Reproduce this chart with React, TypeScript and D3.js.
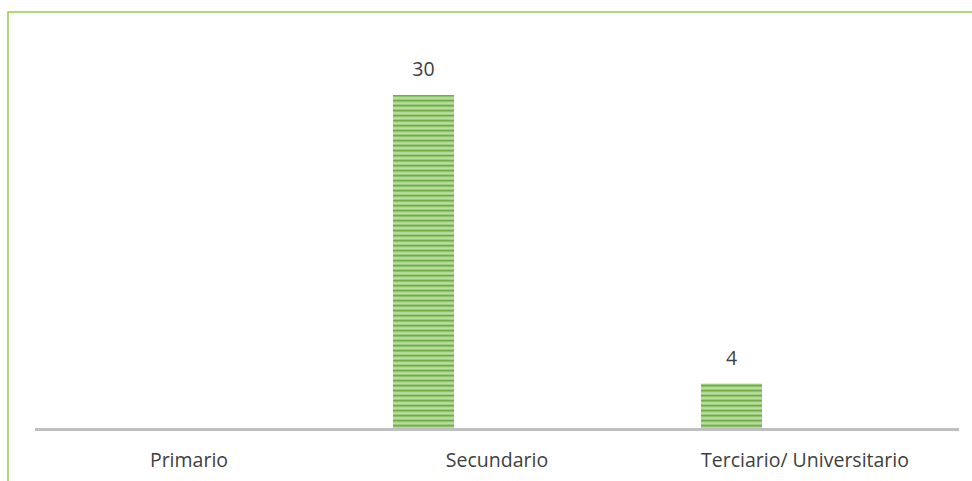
import React from "react";
import * as d3 from "d3";

// Education level counts
const categories = ["Primario", "Secundario", "Terciario/ Universitario"];
const values: (number | null)[] = [null, 30, 4];
// Series slots per category group (only the first one carries data)
const seriesSlots = ["Cantidad", "s2", "s3"];

const W = 972;
const H = 481;
const margin = { left: 35, right: 13, top: 95, bottom: 52 };

export default function App() {
  const x = d3
    .scaleBand<string>()
    .domain(categories)
    .range([margin.left, W - margin.right])
    .padding(0);

  const inner = d3
    .scaleBand<string>()
    .domain(seriesSlots)
    .range([0, x.bandwidth()])
    .paddingInner(0.17)
    .paddingOuter(0.68);

  const baseY = H - margin.bottom - 1;
  const y = d3.scaleLinear().domain([0, 30]).range([baseY, margin.top]);

  const font = "'Open Sans', sans-serif";
  const fontSize = 19.5;

  return (
    <svg
      width={W}
      height={H}
      style={{ position: "absolute", left: 0, top: 0 }}
      viewBox={`0 0 ${W} ${H}`}
    >
      <defs>
        <pattern id="stripes" width="6" height="5" patternUnits="userSpaceOnUse">
          <rect width="6" height="5" fill="#9ccc7b" />
          <rect y="0" width="6" height="1.3" fill="#6fac46" />
          <rect y="2.5" width="6" height="1.2" fill="#c8e5b2" />
        </pattern>
      </defs>
      <rect x={0} y={0} width={W} height={H} fill="#ffffff" />
      {/* chart frame */}
      <rect
        x={8}
        y={12}
        width={W + 20}
        height={H + 20}
        fill="none"
        stroke="#92d050"
        strokeWidth={1.5}
      />
      {values.map((v, i) =>
        v == null ? null : (
          <g key={categories[i]}>
            <rect
              x={(x(categories[i]) ?? 0) + (inner(seriesSlots[0]) ?? 0)}
              y={y(v)}
              width={inner.bandwidth()}
              height={baseY - y(v)}
              fill="url(#stripes)"
            />
            <text
              x={(x(categories[i]) ?? 0) + (inner(seriesSlots[0]) ?? 0) + inner.bandwidth() / 2}
              y={y(v) - 19}
              textAnchor="middle"
              fontFamily={font}
              fontSize={fontSize}
              fill="#404040"
            >
              {v}
            </text>
          </g>
        )
      )}
      <line
        x1={margin.left}
        x2={W - margin.right}
        y1={baseY + 1.5}
        y2={baseY + 1.5}
        stroke="#bfbfbf"
        strokeWidth={3}
      />
      {categories.map((c) => (
        <text
          key={c}
          x={(x(c) ?? 0) + x.bandwidth() / 2}
          y={467}
          textAnchor="middle"
          fontFamily={font}
          fontSize={fontSize}
          fill="#404040"
        >
          {c}
        </text>
      ))}
    </svg>
  );
}
